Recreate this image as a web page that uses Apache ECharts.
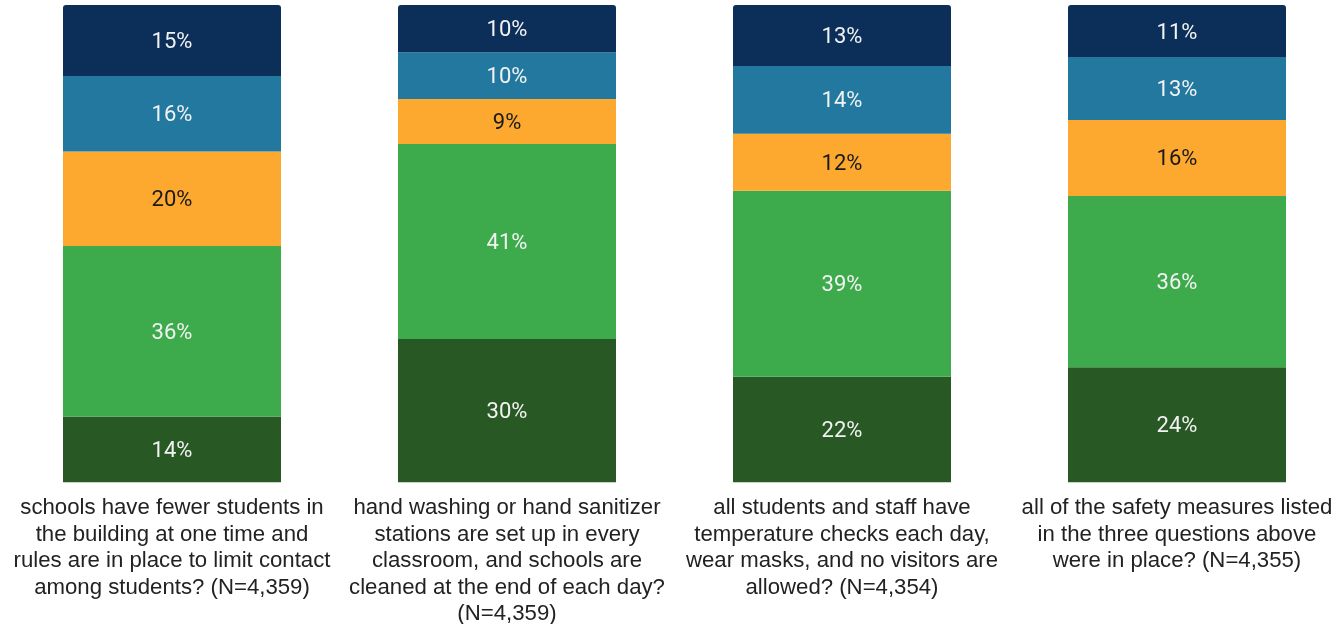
<!DOCTYPE html>
<html>
<head>
<meta charset="utf-8">
<script src="https://cdn.jsdelivr.net/npm/echarts@6/dist/echarts.min.js"></script>
<style>
html,body{margin:0;padding:0;background:#fff;}
#chart{width:1336px;height:624px;}
</style>
</head>
<body>
<div id="chart"></div>
<script>
// Categories (x-axis labels)
const categories = [
  "schools have fewer students in\nthe building at one time and\nrules are in place to limit contact\namong students? (N=4,359)",
  "hand washing or hand sanitizer\nstations are set up in every\nclassroom, and schools are\ncleaned at the end of each day?\n(N=4,359)",
  "all students and staff have\ntemperature checks each day,\nwear masks, and no visitors are\nallowed? (N=4,354)",
  "all of the safety measures listed\nin the three questions above\nwere in place? (N=4,355)"
];
// Series values (percent), bottom to top of each stack
const darkGreenValues = [13.8, 30.0, 22.1, 24.1];
const greenValues     = [35.7, 40.9, 39.0, 35.9];
const orangeValues    = [19.8, 9.4, 11.9, 15.9];
const blueValues      = [15.8, 9.8, 14.2, 13.2];
const navyValues      = [14.9, 9.9, 12.8, 10.9];

const seriesDefs = [
  {name: 's1', data: darkGreenValues, color: '#285824', text: '#f2f2f2'},
  {name: 's2', data: greenValues,     color: '#3dab4b', text: '#f2f2f2'},
  {name: 's3', data: orangeValues,    color: '#fda92f', text: '#1a1a1a'},
  {name: 's4', data: blueValues,      color: '#23789f', text: '#f2f2f2'},
  {name: 's5', data: navyValues,      color: '#0c2f5a', text: '#f2f2f2', top: true}
];

const chart = echarts.init(document.getElementById('chart'), null, {renderer: 'canvas'});
chart.setOption({
  animation: false,
  backgroundColor: '#ffffff',
  grid: {left: 172, width: 1005, top: 5, bottom: 141.7, containLabel: false, outerBoundsMode: 'none'},
  xAxis: {
    type: 'category',
    data: categories,
    boundaryGap: false,
    axisLine: {show: false},
    axisTick: {show: false},
    axisLabel: {
      interval: 0,
      margin: 12.5,
      color: '#222222',
      fontFamily: 'Liberation Sans, Arial, sans-serif',
      fontSize: 22.2,
      lineHeight: 26.5,
      align: 'center',
      verticalAlign: 'top'
    }
  },
  yAxis: {
    type: 'value',
    min: 0,
    max: 100,
    show: false,
    splitLine: {show: false}
  },
  series: seriesDefs.map(d => ({
    name: d.name,
    type: 'bar',
    stack: 'total',
    barWidth: 218,
    data: d.data,
    itemStyle: {color: d.color, borderRadius: d.top ? [3, 3, 0, 0] : 0},
    label: {
      show: true,
      position: 'inside',
      offset: [0, 2],
      color: d.text,
      fontFamily: 'Roboto, sans-serif',
      fontSize: 22,
      formatter: p => Math.round(p.value) + '%'
    }
  }))
});
</script>
</body>
</html>
